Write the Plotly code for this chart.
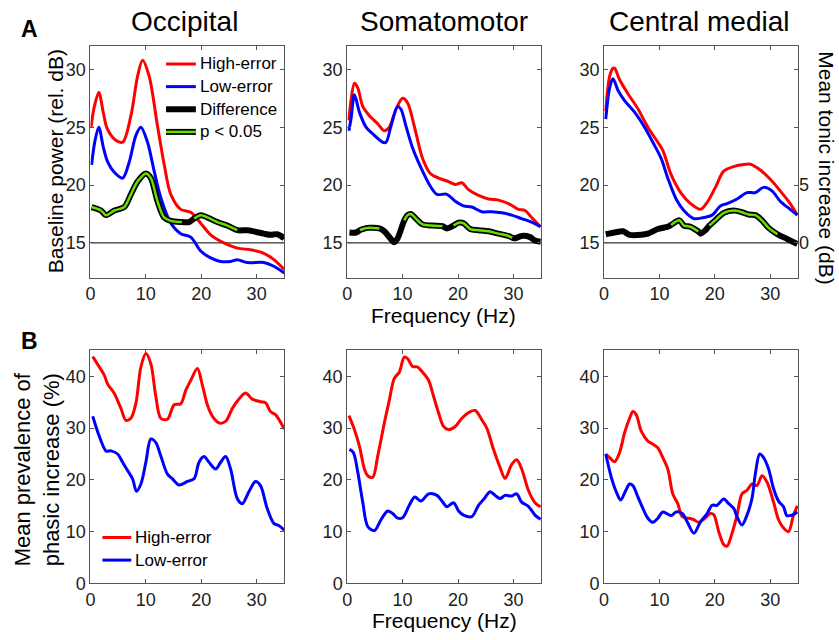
import plotly.graph_objects as go

# ---------------- data ----------------
# A: baseline power spectra (rel. dB) and high-minus-low difference (dB)
occ_hi_f = [0.1, 0.7, 1.5, 2.3, 3.0, 4.5, 5.8, 7.3, 8.5, 9.4, 10.6, 12.1, 13.3, 14.5, 16.3, 18.1, 19.9, 21.7, 24.1, 26.5, 28.9, 31.3, 33.0, 35.0]
occ_hi = [25.0, 26.8, 28.0, 26.3, 24.9, 23.9, 23.7, 26.0, 29.4, 30.8, 29.4, 25.1, 21.8, 19.2, 17.9, 17.65, 16.7, 15.7, 15.0, 14.55, 14.4, 14.1, 13.6, 12.7]
occ_lo_f = [0.2, 0.8, 1.5, 2.3, 3.1, 4.3, 5.8, 7.0, 8.2, 9.1, 10.3, 11.5, 12.7, 14.5, 16.3, 18.1, 19.9, 21.7, 23.5, 25.3, 26.5, 28.3, 31.3, 33.0, 35.0]
occ_lo = [21.75, 23.8, 25.0, 23.3, 22.0, 21.1, 20.6, 22.0, 24.3, 25.0, 23.7, 21.2, 18.9, 16.7, 15.8, 15.5, 14.3, 13.7, 13.4, 13.4, 13.55, 13.3, 13.3, 13.0, 12.4]
occ_diff_f = [0.2, 1.9, 2.8, 4.3, 6.1, 7.3, 8.5, 10.0, 10.9, 12.1, 13.3, 14.5, 16.5, 17.8, 18.7, 19.9, 21.1, 22.9, 24.7, 26.5, 28.3, 29.5, 31.3, 32.5, 33.7, 35.0]
occ_diff = [3.1, 2.8, 2.4, 2.8, 3.1, 4.2, 5.3, 6.0, 5.6, 3.6, 2.2, 1.9, 1.8, 1.8, 2.1, 2.4, 2.2, 1.8, 1.5, 1.1, 1.1, 1.0, 0.8, 0.7, 0.75, 0.4]
occ_sig = [1, 1, 1, 1, 1, 1, 1, 1, 1, 1, 1, 1, 1, 0, 1, 1, 1, 1, 1, 1, 0, 0, 0, 0, 0, 0]

som_hi_f = [0.3, 0.7, 1.3, 1.9, 2.8, 4.0, 5.5, 6.7, 7.6, 8.8, 10.0, 10.9, 12.1, 13.6, 15.0, 16.5, 18.3, 19.5, 20.7, 21.9, 23.7, 25.5, 27.3, 29.1, 30.9, 32.1, 33.3, 34.9]
som_hi = [25.6, 27.4, 28.8, 28.4, 26.8, 26.0, 25.3, 24.7, 25.0, 26.55, 27.5, 27.1, 25.1, 22.3, 21.0, 20.6, 20.3, 20.05, 20.2, 19.6, 19.1, 18.8, 18.7, 18.4, 17.9, 17.8, 17.2, 16.4]
som_lo_f = [0.3, 0.7, 1.3, 2.2, 3.4, 4.9, 6.4, 7.0, 7.9, 9.1, 9.7, 10.6, 11.8, 13.6, 15.0, 16.2, 18.0, 19.5, 21.0, 22.5, 24.3, 26.1, 27.9, 29.7, 31.5, 33.3, 34.9]
som_lo = [24.7, 25.8, 27.8, 26.3, 25.0, 24.3, 23.7, 23.7, 25.1, 26.8, 26.55, 25.1, 23.2, 21.2, 19.9, 19.2, 19.2, 18.6, 18.2, 18.1, 17.7, 17.7, 17.6, 17.4, 17.1, 16.8, 16.4]
som_diff_f = [0.4, 1.6, 2.3, 2.8, 4.0, 5.8, 6.7, 7.6, 8.5, 9.1, 10.3, 10.9, 11.5, 12.4, 13.6, 15.3, 17.2, 18.0, 19.2, 20.1, 21.0, 22.2, 23.7, 25.5, 27.3, 29.1, 29.8, 30.3, 31.5, 33.0, 33.9, 34.9]
som_diff = [0.9, 0.9, 1.1, 1.2, 1.3, 1.25, 1.0, 0.5, 0.05, 0.4, 1.95, 2.4, 2.5, 2.1, 1.6, 1.5, 1.45, 1.25, 1.5, 1.75, 1.7, 1.2, 1.1, 1.0, 0.8, 0.6, 0.45, 0.4, 0.6, 0.5, 0.2, 0.1]
som_sig = [0, 0, 1, 1, 1, 1, 0, 0, 0, 0, 1, 1, 1, 1, 1, 1, 1, 0, 1, 1, 1, 1, 1, 1, 1, 1, 1, 0, 0, 0, 0, 0]

cen_hi_f = [0.3, 1.0, 1.6, 1.9, 2.8, 4.3, 6.1, 7.9, 9.7, 10.6, 12.1, 13.9, 15.6, 17.4, 18.6, 20.1, 21.6, 23.4, 24.9, 26.4, 28.2, 30.0, 31.8, 33.6, 34.9]
cen_hi = [26.4, 29.4, 30.1, 30.1, 29.1, 27.9, 26.6, 25.0, 23.7, 23.0, 20.9, 19.3, 18.4, 17.9, 18.5, 19.8, 21.2, 21.6, 21.75, 21.8, 21.3, 20.5, 19.5, 18.4, 17.4]
cen_lo_f = [0.3, 1.0, 1.6, 2.5, 3.7, 5.5, 7.3, 8.8, 10.3, 11.5, 13.0, 14.4, 16.2, 18.0, 19.5, 21.0, 22.2, 24.0, 25.8, 27.3, 28.8, 30.3, 31.8, 33.6, 34.9]
cen_lo = [25.7, 28.4, 29.2, 28.2, 27.3, 26.3, 25.0, 23.7, 22.3, 20.6, 18.8, 17.8, 17.1, 17.2, 17.4, 18.2, 18.4, 18.8, 19.35, 19.35, 19.8, 19.5, 18.6, 17.9, 17.4]
cen_diff_f = [0.3, 1.9, 3.4, 4.6, 6.7, 7.9, 9.7, 11.5, 12.1, 13.6, 14.4, 15.6, 16.5, 17.0, 17.4, 18.3, 19.0, 20.4, 21.6, 23.4, 24.9, 26.1, 27.3, 28.5, 29.7, 31.3, 33.0, 34.9]
cen_diff = [0.75, 0.9, 1.0, 0.7, 0.7, 0.8, 1.2, 1.4, 1.55, 1.95, 1.5, 1.4, 1.15, 1.0, 0.8, 1.1, 1.5, 2.1, 2.6, 2.8, 2.65, 2.45, 2.4, 1.95, 1.3, 0.75, 0.35, -0.1]
cen_sig = [0, 0, 0, 0, 0, 0, 0, 0, 1, 1, 1, 1, 1, 1, 0, 0, 1, 1, 1, 1, 1, 1, 1, 1, 1, 1, 0, 0]

# B: mean prevalence of phasic increase (%)
occ_ph_hi_f = [0.4, 1.6, 2.5, 3.1, 4.3, 5.5, 6.4, 7.3, 8.2, 9.1, 10.0, 10.9, 11.8, 12.7, 13.9, 15.1, 16.3, 17.2, 18.1, 19.3, 20.2, 21.1, 22.0, 23.2, 24.4, 25.6, 26.5, 28.0, 29.2, 30.7, 31.6, 32.5, 33.4, 35.0]
occ_ph_hi = [43.8, 41.8, 40.2, 38.5, 36.7, 33.8, 31.5, 31.9, 34.8, 41.8, 44.4, 42.4, 36.1, 31.9, 31.7, 34.5, 34.7, 37.3, 39.2, 41.5, 38.3, 34.5, 32.3, 31.0, 31.3, 33.8, 35.2, 36.8, 35.6, 35.1, 34.9, 33.2, 32.6, 29.8]
occ_ph_lo_f = [0.4, 1.6, 2.8, 3.7, 4.9, 5.8, 6.7, 7.6, 8.3, 9.1, 10.0, 10.9, 11.8, 12.7, 13.9, 14.8, 16.0, 17.5, 18.7, 19.6, 20.5, 21.4, 22.6, 23.5, 24.4, 25.3, 26.5, 27.4, 28.6, 29.8, 30.7, 31.9, 33.1, 34.0, 35.0]
occ_ph_lo = [32.3, 28.4, 25.6, 25.6, 25.0, 23.4, 21.8, 20.2, 17.8, 19.2, 23.4, 27.9, 27.2, 24.6, 21.1, 20.2, 19.0, 19.7, 20.2, 23.4, 24.5, 23.4, 22.1, 23.4, 24.5, 22.1, 16.4, 15.4, 17.7, 19.7, 18.9, 14.5, 11.6, 11.2, 10.3]

som_ph_hi_f = [0.3, 1.3, 2.2, 3.1, 3.7, 4.6, 5.5, 6.7, 7.6, 8.5, 9.4, 10.3, 10.9, 11.8, 12.7, 13.6, 14.7, 15.6, 16.5, 17.4, 18.3, 19.5, 20.7, 21.9, 23.1, 24.3, 25.2, 26.4, 27.6, 28.5, 29.7, 30.6, 31.5, 32.7, 33.9, 34.9]
som_ph_hi = [32.4, 29.7, 26.5, 22.1, 20.8, 20.5, 24.6, 31.0, 35.4, 39.6, 40.8, 43.7, 43.4, 41.9, 41.8, 40.8, 39.2, 36.1, 32.9, 30.3, 29.7, 30.3, 31.9, 33.0, 33.4, 31.6, 30.0, 25.9, 22.4, 20.3, 23.0, 23.9, 22.1, 18.0, 15.6, 14.8]
som_ph_lo_f = [0.4, 1.1, 1.9, 2.8, 3.7, 4.9, 6.1, 7.3, 8.2, 9.1, 10.0, 11.2, 12.2, 13.3, 14.7, 16.2, 17.1, 18.0, 19.2, 20.1, 21.0, 22.5, 23.7, 24.6, 25.8, 26.7, 27.6, 28.5, 29.7, 30.6, 31.5, 32.7, 33.9, 34.9]
som_ph_lo = [25.9, 25.3, 21.5, 15.7, 11.0, 10.2, 12.3, 14.0, 13.5, 12.6, 12.7, 15.1, 16.7, 15.9, 17.3, 17.0, 15.9, 14.8, 15.6, 14.0, 13.2, 12.9, 15.1, 16.2, 17.7, 17.0, 16.4, 17.0, 16.9, 17.3, 15.7, 14.9, 13.2, 12.4]

cen_ph_hi_f = [0.3, 1.0, 1.9, 2.8, 3.7, 4.6, 5.2, 5.8, 6.7, 7.9, 8.8, 9.7, 10.6, 11.5, 12.4, 13.3, 14.1, 15.3, 16.2, 17.1, 18.0, 19.2, 19.8, 20.7, 21.6, 22.2, 23.1, 24.0, 24.9, 25.8, 26.7, 27.6, 28.5, 29.4, 30.6, 31.5, 32.4, 33.3, 34.2, 34.9]
cen_ph_hi = [25.0, 24.3, 23.5, 25.3, 29.1, 31.9, 33.2, 32.6, 29.4, 27.5, 26.9, 26.2, 24.3, 22.1, 17.3, 15.4, 12.9, 12.6, 12.3, 11.8, 12.4, 13.5, 13.3, 10.0, 7.5, 7.2, 9.7, 13.2, 17.3, 18.0, 19.2, 18.9, 20.8, 19.6, 15.7, 12.3, 10.7, 10.0, 13.2, 15.0]
cen_ph_lo_f = [0.3, 1.3, 2.2, 3.0, 3.8, 4.6, 5.2, 6.1, 7.0, 7.9, 8.8, 9.7, 10.6, 12.1, 13.0, 14.1, 15.0, 16.2, 17.4, 18.6, 19.5, 20.4, 21.6, 22.5, 23.4, 24.0, 24.9, 25.8, 26.7, 27.3, 28.1, 28.8, 29.7, 30.6, 31.5, 32.4, 33.0, 33.9, 34.9]
cen_ph_lo = [25.0, 20.5, 17.7, 16.1, 17.7, 19.2, 18.9, 16.7, 14.5, 12.6, 11.8, 12.6, 13.8, 13.1, 13.8, 13.5, 11.9, 9.7, 11.9, 13.5, 15.1, 15.1, 16.3, 15.4, 14.5, 12.9, 11.3, 13.2, 16.4, 21.1, 25.0, 24.3, 22.1, 18.3, 15.9, 14.8, 13.1, 13.2, 13.8]

titles = ["Occipital", "Somatomotor", "Central medial"]
freq_ticks = [0, 10, 20, 30]
power_ticks = [15, 20, 25, 30]
diff_ticks = [0, 5]
prev_ticks = [0, 10, 20, 30, 40]

# ---------------- styling ----------------
FONT = "Liberation Sans, Arial, Helvetica, sans-serif"
RED, BLUE, BLACK, GREEN = "#ff0000", "#0000ff", "#000000", "#66e000"
FRAME = "#555555"
W, H = 839, 640


def px(x):
    return x / W


def py(y):
    return 1 - y / H


col_px = [(86, 281), (344.3, 539.3), (602.7, 797.7)]
row_px = [(47, 282), (356, 592.7)]

fig = go.Figure()

top_sets = [
    (occ_hi_f, occ_hi, occ_lo_f, occ_lo, occ_diff_f, occ_diff, occ_sig),
    (som_hi_f, som_hi, som_lo_f, som_lo, som_diff_f, som_diff, som_sig),
    (cen_hi_f, cen_hi, cen_lo_f, cen_lo, cen_diff_f, cen_diff, cen_sig),
]
bot_sets = [
    (occ_ph_hi_f, occ_ph_hi, occ_ph_lo_f, occ_ph_lo),
    (som_ph_hi_f, som_ph_hi, som_ph_lo_f, som_ph_lo),
    (cen_ph_hi_f, cen_ph_hi, cen_ph_lo_f, cen_ph_lo),
]


def line(x, y, color, width, xa, ya):
    return go.Scatter(x=x, y=y, mode="lines", showlegend=False, hoverinfo="skip",
                      line=dict(color=color, width=width, shape="spline", smoothing=0.9),
                      xaxis=xa, yaxis=ya, connectgaps=False)


for i, (hf, hv, lf, lv, df, dv, sig) in enumerate(top_sets):
    xa = "x%d" % (i + 1)
    ya = "y%d" % (i + 1)
    yd = "y%d" % (i + 7)
    fig.add_trace(line(hf, hv, RED, 3, xa, ya))
    fig.add_trace(line(lf, lv, BLUE, 3, xa, ya))
    fig.add_trace(line(df, dv, BLACK, 6, xa, yd))
    green = [v if s else None for v, s in zip(dv, sig)]
    fig.add_trace(line(df, green, GREEN, 2.5, xa, yd))

for i, (hf, hv, lf, lv) in enumerate(bot_sets):
    xa = "x%d" % (i + 4)
    ya = "y%d" % (i + 4)
    fig.add_trace(line(hf, hv, RED, 3, xa, ya))
    fig.add_trace(line(lf, lv, BLUE, 3, xa, ya))

tickfont = dict(family=FONT, size=18, color="#222222")
common = dict(showline=True, linecolor=FRAME, linewidth=1, mirror="ticks", ticks="inside",
              ticklen=4, tickcolor=FRAME, showgrid=False, zeroline=False, tickfont=tickfont,
              fixedrange=True)

layout = {}
for r in range(2):
    for c in range(3):
        k = r * 3 + c + 1
        x0, x1 = col_px[c]
        y0, y1 = row_px[r]
        layout["xaxis%d" % k] = dict(domain=[px(x0), px(x1)], anchor="y%d" % k,
                                     range=[0, 35], tickvals=freq_ticks, **common)
        if r == 0:
            ydict = dict(range=[12, 32], tickvals=power_ticks)
        else:
            ydict = dict(range=[0, 45], tickvals=prev_ticks)
        layout["yaxis%d" % k] = dict(domain=[py(y1), py(y0)], anchor="x%d" % k, **ydict, **common)

# overlay axes carrying the difference curves (dB)
for c in range(3):
    k = c + 7
    ax = dict(overlaying="y%d" % (c + 1), anchor="x%d" % (c + 1), range=[-3, 17],
              showgrid=False, zeroline=False, fixedrange=True)
    if c == 2:
        ax.update(side="right", tickvals=diff_ticks, ticks="inside", ticklen=4,
                  tickcolor=FRAME, showline=False, tickfont=tickfont)
    else:
        ax.update(showticklabels=False, ticks="", showline=False)
    layout["yaxis%d" % k] = ax

# reference line at zero difference in the top row
shapes = []
for c in range(3):
    shapes.append(dict(type="line", xref="x%d" % (c + 1), yref="y%d" % (c + 7),
                       x0=0, x1=35, y0=0, y1=0, line=dict(color="#000000", width=1), layer="below"))

annotations = []


def text(x, y, s, size, angle=0, bold=False, xanchor="center"):
    annotations.append(dict(x=px(x), y=py(y), xref="paper", yref="paper", text=("<b>%s</b>" % s) if bold else s,
                            showarrow=False, textangle=angle, xanchor=xanchor, yanchor="middle",
                            borderpad=0,
                            font=dict(family=FONT, size=size, color="#000000")))


text(25, 29, "A", 23, bold=True)
text(25, 346, "B", 23, bold=True)
for c, t in enumerate(titles):
    text([181, 442, 699][c], 22, t, 28)
text(51, 164, "Baseline power (rel. dB)", 21, angle=-90)
text(827, 170, "Mean tonic increase (dB)", 21, angle=90)
text(441, 320, "Frequency (Hz)", 21)
text(442, 630, "Frequency (Hz)", 21)
text(32, 477, "Mean prevalence of<br>phasic increase (%)", 22, angle=-90)

# legend for panel A (occipital)
leg_rows = [(65, "High-error", [(RED, 3)]),
            (88, "Low-error", [(BLUE, 3)]),
            (111, "Difference", [(BLACK, 6)]),
            (134, "p < 0.05", [(BLACK, 6), (GREEN, 2.5)])]
for yy, label, strokes in leg_rows:
    for col, wdt in strokes:
        shapes.append(dict(type="line", xref="paper", yref="paper", x0=px(162), x1=px(192),
                           y0=py(yy), y1=py(yy), line=dict(color=col, width=wdt)))
    text(195, yy, label, 17, xanchor="left")

# legend for panel B (occipital)
for yy, label, col in [(546, "High-error", RED), (569, "Low-error", BLUE)]:
    shapes.append(dict(type="line", xref="paper", yref="paper", x0=px(98), x1=px(127),
                       y0=py(yy), y1=py(yy), line=dict(color=col, width=3)))
    text(130, yy, label, 17, xanchor="left")

fig.update_layout(width=W, height=H, margin=dict(l=0, r=0, t=0, b=0),
                  paper_bgcolor="white", plot_bgcolor="white", showlegend=False,
                  shapes=shapes, annotations=annotations, **layout)

fig.write_html("out.html", config={"displayModeBar": False})
